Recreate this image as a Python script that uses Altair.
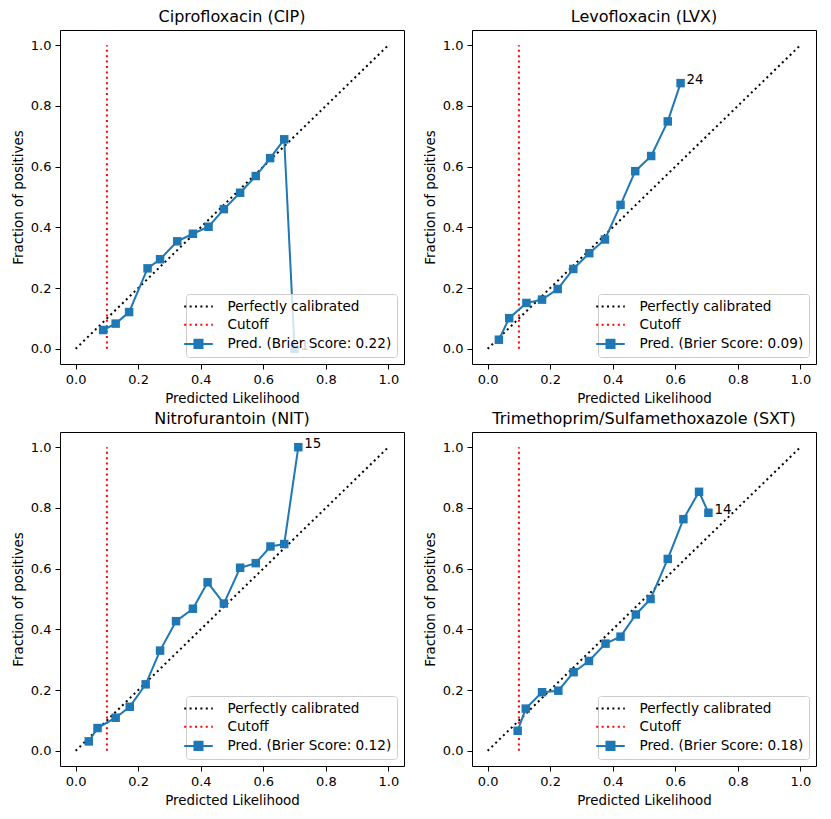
import altair as alt
import pandas as pd

# ---- data ----
TITLES = ["Ciprofloxacin (CIP)", "Levofloxacin (LVX)",
          "Nitrofurantoin (NIT)", "Trimethoprim/Sulfamethoxazole (SXT)"]
BRIER = ["0.22", "0.09", "0.12", "0.18"]
LAST_LABEL = ["1", "24", "15", "14"]

CIP_X = [0.088, 0.128, 0.171, 0.230, 0.270, 0.325, 0.375, 0.425, 0.474, 0.526, 0.576, 0.622, 0.667, 0.700]
CIP_Y = [0.062, 0.083, 0.121, 0.265, 0.295, 0.354, 0.379, 0.402, 0.460, 0.514, 0.569, 0.628, 0.690, 0.0]

LVX_X = [0.036, 0.069, 0.124, 0.174, 0.224, 0.274, 0.325, 0.375, 0.425, 0.472, 0.523, 0.576, 0.617]
LVX_Y = [0.030, 0.101, 0.151, 0.162, 0.197, 0.263, 0.315, 0.360, 0.474, 0.585, 0.635, 0.749, 0.875]

NIT_X = [0.042, 0.070, 0.128, 0.173, 0.224, 0.270, 0.321, 0.375, 0.422, 0.474, 0.526, 0.576, 0.623, 0.667, 0.712]
NIT_Y = [0.031, 0.075, 0.109, 0.145, 0.219, 0.330, 0.427, 0.468, 0.555, 0.485, 0.603, 0.618, 0.673, 0.681, 1.0]

SXT_X = [0.096, 0.122, 0.174, 0.226, 0.275, 0.324, 0.377, 0.425, 0.474, 0.521, 0.576, 0.626, 0.676, 0.706]
SXT_Y = [0.066, 0.139, 0.193, 0.198, 0.259, 0.296, 0.353, 0.376, 0.449, 0.500, 0.632, 0.763, 0.853, 0.784]

DIAG = [0.0, 1.0]
CUTOFF = 0.1
TICKS = [0.0, 0.2, 0.4, 0.6, 0.8, 1.0]

BLUE = "#1f77b4"
FONT = "DejaVu Sans"
LINE_PATH = "M-2.2,0H2.2"
PRED_PATH = "M-2.2,0H2.2M-0.62,-0.62H0.62V0.62H-0.62Z"
IS_PRED = "indexof(datum.value, 'Pred') >= 0"


def panel(title, xs, ys, brier, last_label):
    pred_name = f"Pred. (Brier Score: {brier})"
    domain = ["Perfectly calibrated", "Cutoff", pred_name]
    xsc = alt.Scale(domain=[-0.05, 1.05], nice=False, zero=False)
    ysc = alt.Scale(domain=[-0.05, 1.05], nice=False, zero=False)
    xax = alt.Axis(values=TICKS, format=".1f", title="Predicted Likelihood")
    yax = alt.Axis(values=TICKS, format=".1f", title="Fraction of positives")

    df_diag = pd.DataFrame({"x": DIAG, "y": DIAG})
    df_cut = pd.DataFrame({"x": [CUTOFF], "y": [DIAG[0]], "y2": [DIAG[1]]})
    df_pred = pd.DataFrame({"x": xs, "y": ys, "i": list(range(len(xs))),
                            "series": pred_name})
    df_last = df_pred.tail(1).assign(label=last_label)

    diag = alt.Chart(df_diag).mark_line(
        color="black", strokeWidth=2, strokeDash=[2, 3.4]
    ).encode(x=alt.X("x:Q", scale=xsc, axis=xax), y=alt.Y("y:Q", scale=ysc, axis=yax))

    cut = alt.Chart(df_cut).mark_rule(
        color="red", strokeWidth=2, strokeDash=[2, 3.4]
    ).encode(x="x:Q", y="y:Q", y2="y2:Q")

    legend = alt.Legend(
        title=None, orient="bottom-right", offset=7, padding=5,
        rowPadding=3.2, labelOffset=21.5, labelFont=FONT, labelFontSize=13.6,
        labelColor="black", labelLimit=400,
        symbolSize=169, symbolStrokeWidth=2,
        symbolType=alt.ExprRef(expr=f"{IS_PRED} ? '{PRED_PATH}' : '{LINE_PATH}'"),
        symbolDash=alt.ExprRef(expr=f"{IS_PRED} ? [1, 0] : [2, 3.4]"),
        symbolFillColor=alt.ExprRef(expr=f"{IS_PRED} ? '{BLUE}' : 'transparent'"),
        fillColor="rgba(255,255,255,0.8)", strokeColor="#cccccc", cornerRadius=3,
    )
    line = alt.Chart(df_pred).mark_line(strokeWidth=2).encode(
        x="x:Q", y="y:Q", order="i:Q",
        color=alt.Color("series:N",
                        scale=alt.Scale(domain=domain, range=["black", "red", BLUE]),
                        legend=legend),
    )
    pts = alt.Chart(df_pred).mark_square(size=72, color=BLUE, opacity=1, filled=True).encode(
        x="x:Q", y="y:Q")
    txt = alt.Chart(df_last).mark_text(
        align="left", baseline="alphabetic", dx=6, dy=1, font=FONT, fontSize=13.4, color="black"
    ).encode(x="x:Q", y="y:Q", text="label:N")

    return alt.layer(diag, cut, line, pts, txt).properties(
        width=344, height=334, title=title)


p = [panel(TITLES[0], CIP_X, CIP_Y, BRIER[0], LAST_LABEL[0]),
     panel(TITLES[1], LVX_X, LVX_Y, BRIER[1], LAST_LABEL[1]),
     panel(TITLES[2], NIT_X, NIT_Y, BRIER[2], LAST_LABEL[2]),
     panel(TITLES[3], SXT_X, SXT_Y, BRIER[3], LAST_LABEL[3])]

chart = alt.vconcat(
    alt.hconcat(p[0], p[1], spacing=17).resolve_scale(color="independent"),
    alt.hconcat(p[2], p[3], spacing=17).resolve_scale(color="independent"),
    spacing=5,
).resolve_scale(color="independent").properties(
    padding={"left": 2, "top": 0, "right": 0, "bottom": 0}
).configure_view(stroke="black", strokeWidth=1).configure_axis(
    domain=False, grid=False, tickColor="black", tickSize=5, tickWidth=1,
    labelFont=FONT, labelFontSize=13, labelColor="black", labelPadding=4,
    titleFont=FONT, titleFontSize=13.4, titleFontWeight="normal", titleColor="black",
    titlePadding=5,
).configure_title(font=FONT, fontSize=16, fontWeight="normal", color="black", offset=5)

chart.save("out.html", embed_options={"renderer": "svg", "actions": False})
